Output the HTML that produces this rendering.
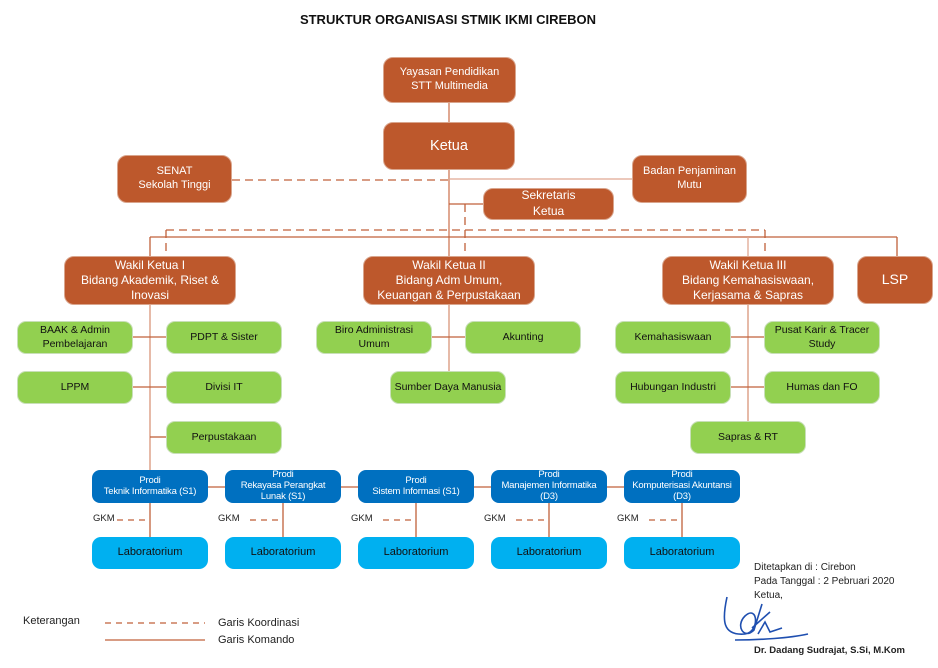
<!DOCTYPE html>
<html><head><meta charset="utf-8"><style>
body{margin:0;width:938px;height:668px;background:#fff;position:relative;overflow:hidden;font-family:"Liberation Sans",sans-serif}
.b{position:absolute;box-sizing:border-box;display:flex;align-items:center;justify-content:center;text-align:center;border-radius:10px;line-height:1.25}
.o{background:#bd582c;color:#fff;border:1px solid #d9a58d}
.g{background:#92d050;color:#111;border:1px solid #c8dfb8;font-size:10.5px;border-radius:9px}
.p{background:#0070c0;color:#fff;font-size:9.5px;border-radius:8px;line-height:1.15;letter-spacing:-0.2px}
.l{background:#00b0f0;color:#111;font-size:11px;border-radius:9px}
.t{position:absolute;font-size:10px;color:#222;white-space:nowrap}
</style></head><body>
<svg width="938" height="668" style="position:absolute;left:0;top:0">
<g stroke="#c0603a" stroke-width="1.3" fill="none">
<line x1="449" y1="103" x2="449" y2="122" stroke="#e0a892" stroke-width="2"/>
<line x1="449" y1="170" x2="449" y2="256" stroke="#e0a892" stroke-width="2"/>
<line x1="232" y1="180" x2="449" y2="180" stroke-dasharray="8,5"/>
<line x1="449" y1="179" x2="632" y2="179" stroke="#e0a892"/>
<line x1="449" y1="204" x2="483" y2="204"/>
<line x1="465" y1="204" x2="465" y2="256" stroke-dasharray="8,5"/>
<line x1="166" y1="230" x2="765" y2="230" stroke-dasharray="8,5"/>
<line x1="166" y1="230" x2="166" y2="256" stroke-dasharray="8,5"/>
<line x1="765" y1="230" x2="765" y2="256" stroke-dasharray="8,5"/>
<line x1="150" y1="237" x2="897" y2="237"/>
<line x1="150" y1="237" x2="150" y2="256"/>
<line x1="748" y1="237" x2="748" y2="256" stroke="#e0a892"/>
<line x1="897" y1="237" x2="897" y2="256"/>
<line x1="150" y1="305" x2="150" y2="470" stroke="#e0a892" stroke-width="1.6"/>
<line x1="133" y1="337" x2="166" y2="337"/><line x1="133" y1="387" x2="166" y2="387"/><line x1="150" y1="437" x2="166" y2="437"/>
<line x1="449" y1="305" x2="449" y2="371" stroke="#e0a892" stroke-width="1.6"/>
<line x1="432" y1="337" x2="465" y2="337"/>
<line x1="748" y1="305" x2="748" y2="421" stroke="#e0a892" stroke-width="1.6"/>
<line x1="731" y1="337" x2="764" y2="337"/><line x1="731" y1="387" x2="764" y2="387"/>
<line x1="208" y1="487" x2="225" y2="487"/><line x1="341" y1="487" x2="358" y2="487"/><line x1="474" y1="487" x2="491" y2="487"/><line x1="607" y1="487" x2="624" y2="487"/>
<line x1="150" y1="503" x2="150" y2="537"/><line x1="283" y1="503" x2="283" y2="537"/><line x1="416" y1="503" x2="416" y2="537"/><line x1="549" y1="503" x2="549" y2="537"/><line x1="682" y1="503" x2="682" y2="537"/>
<g stroke-dasharray="6,5">
<line x1="117" y1="520" x2="150" y2="520"/><line x1="250" y1="520" x2="283" y2="520"/><line x1="383" y1="520" x2="416" y2="520"/><line x1="516" y1="520" x2="549" y2="520"/><line x1="649" y1="520" x2="682" y2="520"/>
<line x1="105" y1="623" x2="205" y2="623"/>
</g>
<line x1="105" y1="640" x2="205" y2="640"/>
</g>
<path d="M727 597 C722 620 722 636 745 634 C760 632 758 604 745 616 C735 626 744 640 754 630 L762 604 M752 628 L770 612 M758 634 L765 622 L770 632 L782 628 M735 640 C760 640 790 638 808 634" stroke="#1f4fb0" stroke-width="1.6" fill="none"/>
</svg>
<div class="t" style="left:0;width:896px;top:12px;text-align:center;font-weight:bold;font-size:13px;color:#111">STRUKTUR ORGANISASI STMIK IKMI CIREBON</div>
<div class="b o" style="left:383px;top:57px;width:133px;height:46px;font-size:11px">Yayasan Pendidikan<br>STT Multimedia</div>
<div class="b o" style="left:383px;top:122px;width:132px;height:48px;font-size:14.5px">Ketua</div>
<div class="b o" style="left:117px;top:155px;width:115px;height:48px;font-size:11px">SENAT<br>Sekolah Tinggi</div>
<div class="b o" style="left:632px;top:155px;width:115px;height:48px;font-size:11px">Badan Penjaminan<br>Mutu</div>
<div class="b o" style="left:483px;top:188px;width:131px;height:32px;font-size:12px;line-height:1.3">Sekretaris<br>Ketua</div>
<div class="b o" style="left:64px;top:256px;width:172px;height:49px;font-size:12px">Wakil Ketua I<br>Bidang Akademik, Riset &amp;<br>Inovasi</div>
<div class="b o" style="left:363px;top:256px;width:172px;height:49px;font-size:12px">Wakil Ketua II<br>Bidang Adm Umum,<br>Keuangan &amp; Perpustakaan</div>
<div class="b o" style="left:662px;top:256px;width:172px;height:49px;font-size:12px">Wakil Ketua III<br>Bidang Kemahasiswaan,<br>Kerjasama &amp; Sapras</div>
<div class="b o" style="left:857px;top:256px;width:76px;height:48px;font-size:14px">LSP</div>
<div class="b g" style="left:17px;top:321px;width:116px;height:33px">BAAK &amp; Admin<br>Pembelajaran</div>
<div class="b g" style="left:166px;top:321px;width:116px;height:33px">PDPT &amp; Sister</div>
<div class="b g" style="left:17px;top:371px;width:116px;height:33px">LPPM</div>
<div class="b g" style="left:166px;top:371px;width:116px;height:33px">Divisi IT</div>
<div class="b g" style="left:166px;top:421px;width:116px;height:33px">Perpustakaan</div>
<div class="b g" style="left:316px;top:321px;width:116px;height:33px">Biro Administrasi<br>Umum</div>
<div class="b g" style="left:465px;top:321px;width:116px;height:33px">Akunting</div>
<div class="b g" style="left:390px;top:371px;width:116px;height:33px">Sumber Daya Manusia</div>
<div class="b g" style="left:615px;top:321px;width:116px;height:33px">Kemahasiswaan</div>
<div class="b g" style="left:764px;top:321px;width:116px;height:33px">Pusat Karir &amp; Tracer<br>Study</div>
<div class="b g" style="left:615px;top:371px;width:116px;height:33px">Hubungan Industri</div>
<div class="b g" style="left:764px;top:371px;width:116px;height:33px">Humas dan FO</div>
<div class="b g" style="left:690px;top:421px;width:116px;height:33px">Sapras &amp; RT</div>
<div class="b p" style="left:92px;top:470px;width:116px;height:33px">Prodi<br>Teknik Informatika (S1)</div>
<div class="b p" style="left:225px;top:470px;width:116px;height:33px">Prodi<br>Rekayasa Perangkat<br>Lunak (S1)</div>
<div class="b p" style="left:358px;top:470px;width:116px;height:33px">Prodi<br>Sistem Informasi (S1)</div>
<div class="b p" style="left:491px;top:470px;width:116px;height:33px">Prodi<br>Manajemen Informatika<br>(D3)</div>
<div class="b p" style="left:624px;top:470px;width:116px;height:33px">Prodi<br>Komputerisasi Akuntansi<br>(D3)</div>
<div class="b l" style="left:92px;top:537px;width:116px;height:32px">Laboratorium</div>
<div class="b l" style="left:225px;top:537px;width:116px;height:32px">Laboratorium</div>
<div class="b l" style="left:358px;top:537px;width:116px;height:32px">Laboratorium</div>
<div class="b l" style="left:491px;top:537px;width:116px;height:32px">Laboratorium</div>
<div class="b l" style="left:624px;top:537px;width:116px;height:32px">Laboratorium</div>
<div class="t" style="left:93px;top:513px;font-size:9.5px">GKM</div>
<div class="t" style="left:218px;top:513px;font-size:9.5px">GKM</div>
<div class="t" style="left:351px;top:513px;font-size:9.5px">GKM</div>
<div class="t" style="left:484px;top:513px;font-size:9.5px">GKM</div>
<div class="t" style="left:617px;top:513px;font-size:9.5px">GKM</div>
<div class="t" style="left:754px;top:561px;line-height:14px">Ditetapkan di : Cirebon<br>Pada Tanggal : 2 Pebruari 2020<br>Ketua,</div>
<div class="t" style="left:754px;top:645px;font-weight:bold;font-size:9.5px">Dr. Dadang Sudrajat, S.Si, M.Kom</div>
<div class="t" style="left:23px;top:615px;font-size:11px">Keterangan</div>
<div class="t" style="left:218px;top:617px;font-size:11px">Garis Koordinasi</div>
<div class="t" style="left:218px;top:634px;font-size:11px">Garis Komando</div>
</body></html>
